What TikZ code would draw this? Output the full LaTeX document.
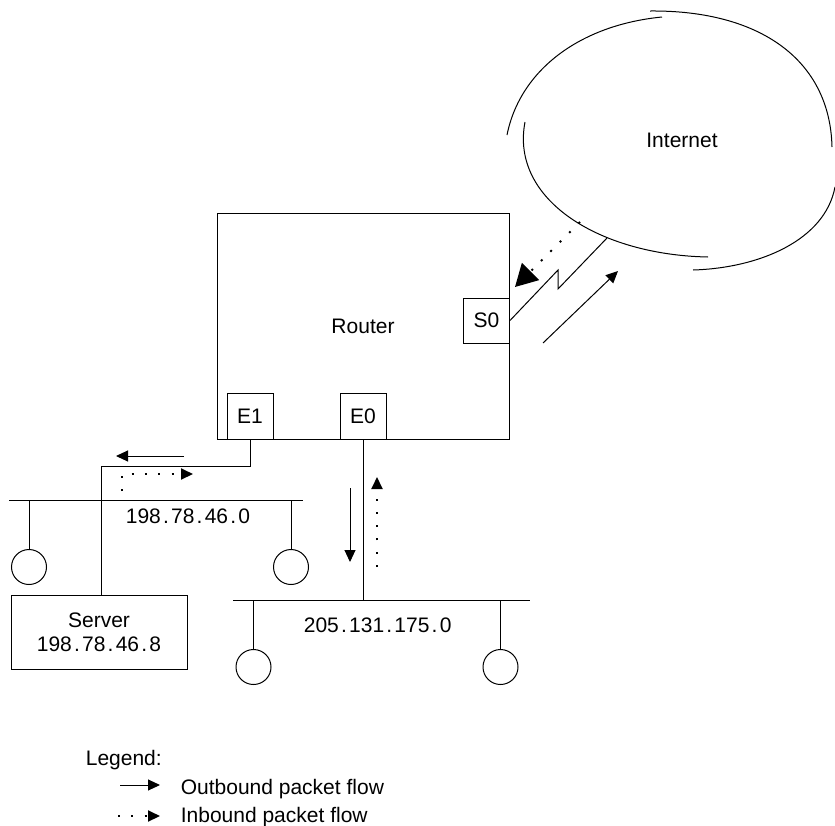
\documentclass[tikz,border=0pt]{standalone}
\usepackage{fontspec}
\setmainfont{Liberation Sans}
\usetikzlibrary{arrows.meta}

% wide dot used in the network numbers
\newcommand{\pd}{\makebox[.49em]{.}}

\tikzset{
    box/.style={draw, inner sep=0pt},
    port/.style={box, minimum width=46pt, minimum height=46pt},
    host/.style={draw, circle, minimum size=35pt, inner sep=0pt},
    outflow/.style={-{Triangle[length=12pt,width=11pt]}},
    inflow/.style={line width=2pt, dash pattern=on 2pt off 11.3pt,
        -{Triangle[length=12pt,width=11pt]}}
}

\begin{document}
\begin{tikzpicture}[x=1pt,y=-1pt,line width=1pt,font=\fontsize{21pt}{24pt}\selectfont]
\useasboundingbox (0,0) rectangle (835,825);

% Router and interfaces
\node[box, minimum width=292pt, minimum height=226pt] (router) at (363,326) {Router};
\node[port, minimum height=45pt] (s0) at (486.5,320.5) {S0};
\node[port] (e1) at (250,416) {E1};
\node[port] (e0) at (363,416) {E0};

% Internet cloud
\node (inet) at (682,140) {Internet};
\draw (507,135) .. controls (520,70) and (580,25) .. (662,17);
\draw (650,11) .. controls (760,10) and (830,60) .. (832,147);
\draw (525,122) .. controls (510,200) and (600,255) .. (708,257);
\draw (835,187) .. controls (825,240) and (760,268) .. (693,270);

% Serial link
\coordinate (zz1) at (558,270);
\coordinate (zz2) at (558,289);
\coordinate (cloud) at (607,238);
\draw (s0.east) -- (zz1) -- (zz2) -- (cloud);

% LAN on E1
\coordinate (lanA-w) at (9,500);
\coordinate (lanA-e) at (303,500);
\draw (lanA-w) -- (lanA-e);
\node[host] (hA1) at (29,567) {};
\node[host] (hA2) at (291,567) {};
\draw (hA1.north) -- (hA1.north |- lanA-w);
\draw (hA2.north) -- (hA2.north |- lanA-w);
\node[anchor=base west] (lanA) at (122,523) {198\pd78\pd46\pd0};

% Server
\node[box, minimum width=176pt, minimum height=74pt, align=center] (server) at (99,632)
    {Server\\198\pd78\pd46\pd8};
\coordinate (e1bend) at (101.7,466);
\draw (e1.south) |- (e1bend) -- (e1bend |- server.north);

% LAN on E0
\coordinate (lanB-w) at (233,600);
\coordinate (lanB-e) at (530,600);
\draw (lanB-w) -- (lanB-e);
\node[host] (hB1) at (253.5,667) {};
\node[host] (hB2) at (500.5,667) {};
\draw (hB1.north) -- (hB1.north |- lanB-w);
\draw (hB2.north) -- (hB2.north |- lanB-w);
\draw (e0.south) -- (e0.south |- lanB-w);
\node[anchor=base west] (lanB) at (300,632) {205\pd131\pd175\pd0};

% Packet flows
\draw[outflow] (184,456) -- (116,456);
\draw[inflow] (122,491) -- (122,474) -- (193,474);
\draw[outflow] (350,488) -- (350,562);
\draw[inflow] (377,567) -- (377,477);
\draw[outflow] (543,343) -- (618,271);
\draw[inflow, -{Triangle[length=22pt,width=24pt]}] (580,222) -- (515,287);

% Legend
\node[anchor=base west] (legend) at (82,765) {Legend:};
\draw[outflow] (120,785) -- (160,785);
\node[anchor=base west] (outtxt) at (177,794) {Outbound packet flow};
\draw[inflow] (118,816) -- (160,816);
\node[anchor=base west] (intxt) at (177,822) {Inbound packet flow};

\end{tikzpicture}
\end{document}
